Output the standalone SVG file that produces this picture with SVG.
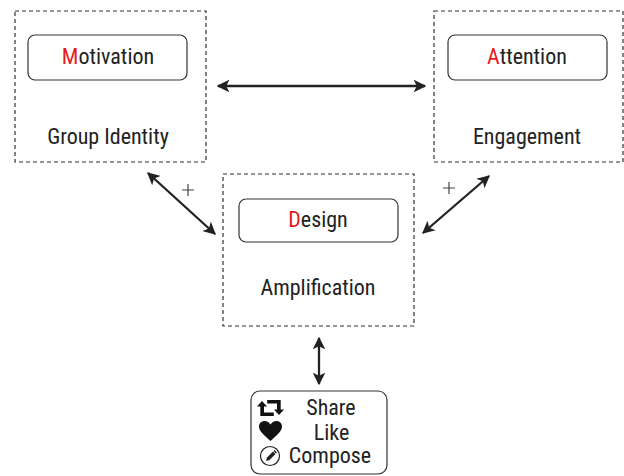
<svg xmlns="http://www.w3.org/2000/svg" width="624" height="476" viewBox="0 0 624 476">
<style>
.grp{fill:none;stroke:#333;stroke-width:1.2;stroke-dasharray:4 3}
.pill{fill:#fff;stroke:#333;stroke-width:1.2}
.t{font-family:"Liberation Sans Narrow","Roboto Condensed","Liberation Sans",sans-serif;font-size:22px;fill:#222;text-anchor:middle}
.r{fill:#e8191e}
.conn{stroke:#222;stroke-width:2.3;fill:none;marker-start:url(#ah);marker-end:url(#ah)}
.plus{stroke:#444;stroke-width:1.2;fill:none}
</style>
<defs>
<marker id="ah" viewBox="0 0 10 10" refX="9" refY="5" markerWidth="5.5" markerHeight="5.5" orient="auto-start-reverse" markerUnits="strokeWidth">
<path d="M0,0 L10,5 L0,10 L2.5,5 z" fill="#222"/>
</marker>
</defs>
<rect width="624" height="476" fill="#fff"/>
<g id="connectors">
<line class="conn" x1="218" y1="86" x2="425" y2="86"/>
<line class="conn" x1="148" y1="173" x2="215" y2="234"/>
<line class="conn" x1="489" y1="176" x2="423" y2="233"/>
<line class="conn" x1="319" y1="338" x2="319" y2="384"/>
<path class="plus" d="M182,190 h12 M188,184 v12"/>
<path class="plus" d="M443,188 h12 M449,182 v12"/>
</g>
<g id="motivation-group">
<rect class="grp" x="15" y="11" width="191" height="151"/>
<rect class="pill" x="28" y="35" width="159" height="45" rx="7"/>
<text class="t" x="108" y="64"><tspan class="r">M</tspan>otivation</text>
<text class="t" x="108" y="144">Group Identity</text>
</g>
<g id="attention-group">
<rect class="grp" x="434" y="11" width="189" height="151"/>
<rect class="pill" x="448" y="35" width="159" height="45" rx="7"/>
<text class="t" x="527" y="64"><tspan class="r">A</tspan>ttention</text>
<text class="t" x="527" y="144">Engagement</text>
</g>
<g id="design-group">
<rect class="grp" x="223" y="174" width="191" height="152"/>
<rect class="pill" x="239" y="199" width="159" height="43" rx="7"/>
<text class="t" x="318" y="227"><tspan class="r">D</tspan>esign</text>
<text class="t" x="318" y="295">Amplification</text>
</g>
<g id="actions">
<rect class="pill" x="251" y="391" width="136" height="83" rx="9"/>
<g fill="#111" stroke="none">
<path d="M262,401 l-5,5.5 h3.3 v9.5 h13.5 v-3.4 h-9.8 v-6.1 h3 z"/>
<path d="M279,415 l5,-5.5 h-3.3 v-9.5 h-13.5 v3.4 h9.8 v6.1 h-3 z"/>
<path d="M270.5,441 C264.5,435.5 259,431.5 259,426.5 C259,423.2 261.6,421 264.6,421 C267.3,421 269.2,422.6 270.5,424.6 C271.8,422.6 273.7,421 276.4,421 C279.4,421 282,423.2 282,426.5 C282,431.5 276.5,435.5 270.5,441 z"/>
</g>
<circle cx="270" cy="456" r="9.5" fill="none" stroke="#222" stroke-width="1.2"/>
<path d="M266,461 l1,-3.5 l6,-6 l2.5,2.5 l-6,6 z" fill="#222"/>
<path d="M273.5,451 l1,-1 l2.5,2.5 l-1,1 z" fill="#222"/>
<text class="t" x="331" y="415">Share</text>
<text class="t" x="331.5" y="440">Like</text>
<text class="t" x="330" y="463">Compose</text>
</g>
</svg>
